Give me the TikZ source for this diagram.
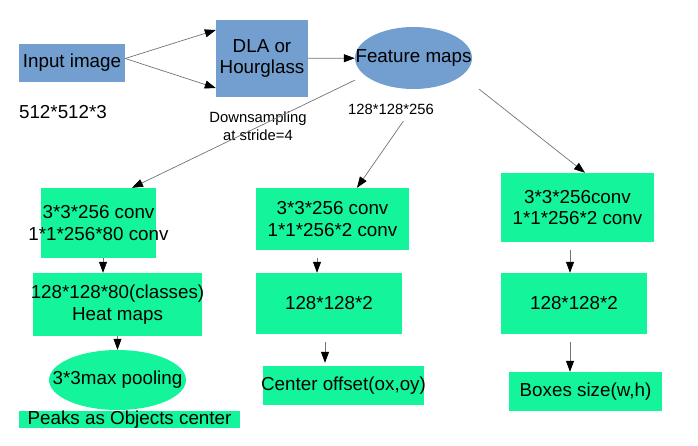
\documentclass[tikz,border=0pt]{standalone}
\usepackage{fontspec}
\setmainfont{Liberation Sans}
\usetikzlibrary{arrows.meta,shapes.geometric}
\definecolor{fillblue}{HTML}{729FCF}
\definecolor{fillgreen}{RGB}{20,245,155}
\newcommand{\wide}[1]{\makebox[0pt]{#1}}
\newcommand{\bigfont}{\fontsize{18.8}{21.5}\selectfont}
\newcommand{\smallfont}{\fontsize{14.8}{18}\selectfont}

\begin{document}
\begin{tikzpicture}[x=1pt,y=-1pt,
  arr/.style={draw=black!55,line width=0.7pt,-{Triangle[length=11pt,width=8pt,color=black]}},
  bluebox/.style={fill=fillblue,inner sep=0pt,font=\bigfont,align=center},
  greenbox/.style={fill=fillgreen,inner sep=0pt,font=\bigfont,align=center},
  note/.style={inner sep=0pt,font=\smallfont,align=center}]
\useasboundingbox (0,0) rectangle (698,445);
% backbone
\node[bluebox,minimum width=106,minimum height=38] (img) at (72,62.5) {\wide{Input image}};
\node[font=\bigfont,inner sep=0pt] (imgdim) at (63,112) {512*512*3};
\node[bluebox,minimum width=92,minimum height=77] (dla) at (262,58.5)
  {\wide{DLA or}\\\wide{Hourglass}};
\node[bluebox,ellipse,minimum width=117,minimum height=62] (fm) at (413.5,58) {\wide{Feature maps}};
\node[note] (fmdim) at (391,109) {128*128*256};
\node[note] (down) at (258,126) {Downsampling\\at stride=4};
% heat map branch
\node[greenbox,minimum width=115,minimum height=70] (c1a) at (98.5,223)
  {\wide{3*3*256 conv}\\\wide{1*1*256*80 conv}};
\node[greenbox,minimum width=169,minimum height=63] (c1b) at (117.5,304.5)
  {\wide{128*128*80(classes)}\\\wide{Heat maps}};
\node[greenbox,ellipse,minimum width=137,minimum height=60] (c1c) at (117.5,380) {\wide{3*3max pooling}};
\node[greenbox,minimum width=221,minimum height=15] (c1d) at (129.5,419.5) {Peaks as Objects center};
% offset branch
\node[greenbox,minimum width=153,minimum height=62] (c2a) at (332.5,219)
  {\wide{3*3*256 conv}\\\wide{1*1*256*2 conv}};
\node[greenbox,minimum width=146,minimum height=61] (c2b) at (329,303.5) {\wide{128*128*2}};
\node[greenbox,minimum width=161,minimum height=39] (c2c) at (343.5,385.5) {\wide{Center offset(ox,oy)}};
% size branch
\node[greenbox,minimum width=153,minimum height=69] (c3a) at (577.5,207.5)
  {\wide{3*3*256conv}\\\wide{1*1*256*2 conv}};
\node[greenbox,minimum width=146,minimum height=61] (c3b) at (574,303.5) {\wide{128*128*2}};
\node[greenbox,minimum width=153,minimum height=39] (c3c) at (585.5,391.5) {\wide{Boxes size(w,h)}};
% connectors
\draw[arr] ([yshift=4]img.east) -- ([yshift=28.5]dla.west);
\draw[arr] ([yshift=4]img.east) -- ([yshift=-29.5]dla.west);
\draw[arr] (dla) -- (fm);
\draw[arr] ([xshift=-17]fm.south west) -- ([xshift=33.5]c1a.north);
\draw[arr,shorten <=8pt] ([xshift=17]fmdim.south) -- ([xshift=24.5]c2a.north);
\draw[arr] ([xshift=24,yshift=-9]fm.south east) -- ([xshift=7.5]c3a.north);
\draw[arr] ([xshift=4.5]c1a.south) -- ([xshift=-14.5]c1b.north);
\draw[arr] (c1b) -- (c1c);
\draw[arr,shorten <=8pt] ([xshift=-15.5]c2a.south) -- ([xshift=-12]c2b.north);
\draw[arr,shorten <=8pt,shorten >=3pt] ([xshift=-4]c2b.south) -- ([xshift=-18.5]c2c.north);
\draw[arr,shorten <=8pt] ([xshift=-7.5]c3a.south) -- ([xshift=-4]c3b.north);
\draw[arr,shorten <=8pt] ([xshift=-4]c3b.south) -- ([xshift=-15.5]c3c.north);
\end{tikzpicture}
\end{document}
